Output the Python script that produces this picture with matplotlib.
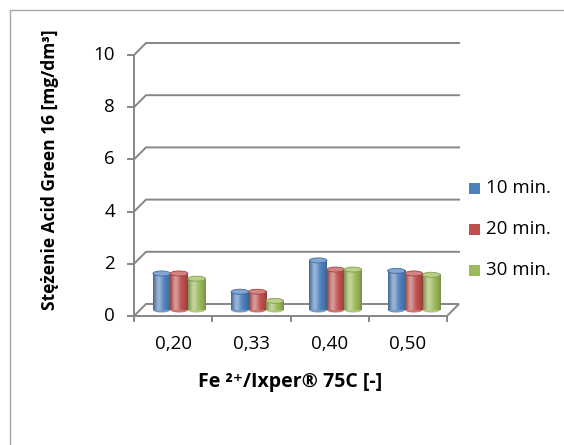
import numpy as np
import matplotlib.pyplot as plt
from matplotlib.colors import to_rgb
from matplotlib.patches import Ellipse, Polygon, Rectangle

plt.rcParams['font.family'] = ['Open Sans', 'DejaVu Sans']

categories = ['0,20', '0,33', '0,40', '0,50']
series_names = ['10 min.', '20 min.', '30 min.']
v10 = [1.4, 0.7, 1.9, 1.5]
v20 = [1.4, 0.7, 1.55, 1.4]
v30 = [1.2, 0.35, 1.55, 1.35]
yticks = [0, 2, 4, 6, 8, 10]
colors = ['#4F81BD', '#C0504D', '#9BBB59']
grid_col = '#868686'

W, H = 564, 445
fig = plt.figure(figsize=(W / 100, H / 100), dpi=100)
ax = fig.add_axes([134 / W, 129 / H, 313 / W, 261 / H])
ax.axis('off')

n = len(categories)
px = n / 313      # data units per pixel, x
py = 10 / 261     # data units per pixel, y
dx, dy = 12 * px, 12 * py   # depth offset of back wall

# back wall gridlines (with the diagonal to the front axis)
for y in yticks[1:]:
    ax.plot([0, dx, n + dx], [y, y + dy, y + dy], color=grid_col, lw=1.4,
            clip_on=False, zorder=1)

# floor
ax.add_patch(Polygon([(0, 0), (n, 0), (n + dx, dy), (dx, dy)], closed=True,
                     facecolor='none', edgecolor=grid_col, lw=1.4,
                     clip_on=False, zorder=1))

# axes
ax.plot([0, 0], [0, 10], color=grid_col, lw=1.4, clip_on=False, zorder=1)
for y in yticks:
    ax.plot([-6 * px, 0], [y, y], color=grid_col, lw=1.4, clip_on=False)
    ax.text(-19 * px, y, str(y), ha='right', va='center', fontsize=13.5)
for i in range(n + 1):
    ax.plot([i, i], [0, -5 * py], color=grid_col, lw=1.4, clip_on=False)
for i, c in enumerate(categories):
    ax.text(i + 0.5, -28 * py, c, ha='center', va='center', fontsize=13.5)


def shade(col, s):
    c = np.array(to_rgb(col))
    hl = 0.45 * np.exp(-((s - 0.3) / 0.22) ** 2)
    out = c[None, :] + (1 - c[None, :]) * hl[:, None]
    dark = 0.72 + 0.28 * np.sin(np.pi * np.clip(s, 0.02, 0.98)) ** 0.6
    return np.clip(out * dark[:, None], 0, 1)


# cylinders
bw = 17.5 * px
eh = 5 * py
base = dy / 2
s = np.linspace(0, 1, 64)
for j, vals in enumerate([v10, v20, v30]):
    col = colors[j]
    grad = shade(col, s)[None, :, :]
    for i, v in enumerate(vals):
        xc = i + 0.5 + dx / 2 + (j - 1) * bw
        x0 = xc - bw / 2
        top = base + v
        z = 3 + j * 0.1
        ax.add_patch(Ellipse((xc, base), bw, eh, facecolor=shade(col, np.array([0.5]))[0],
                             edgecolor='none', zorder=z))
        ax.imshow(grad, extent=[x0, x0 + bw, base, top], aspect='auto',
                  interpolation='bilinear', zorder=z + 0.01)
        c = np.array(to_rgb(col))
        ax.add_patch(Ellipse((xc, top), bw, eh, facecolor=c + (1 - c) * 0.3,
                             edgecolor=c * 0.85, lw=0.6, zorder=z + 0.02))

ax.set_xlim(0, n)
ax.set_ylim(0, 10)

# legend
for j, name in enumerate(series_names):
    yc = H - [188, 229, 270][j]
    fig.patches.append(Rectangle((469 / W, (yc - 5.5) / H), 11 / W, 11 / H,
                                 transform=fig.transFigure, facecolor=colors[j],
                                 edgecolor='none'))
    fig.text(486 / W, yc / H, name, ha='left', va='center', fontsize=13.5)

fig.text(290 / W, (H - 382) / H, 'Fe ²⁺/Ixper® 75C [-]', ha='center', va='center',
         fontsize=14, fontweight='bold')
fig.text(50 / W, (H - 170) / H, 'Stężenie Acid Green 16 [mg/dm³]', ha='center',
         va='center', rotation=90, fontsize=12.5, fontweight='bold')

# chart area border
fig.patches.append(Rectangle((9.5 / W, -0.1), 1.2, (H - 9.5) / H + 0.1,
                             transform=fig.transFigure, facecolor='none',
                             edgecolor='#A6A6A6', lw=1))

fig.savefig('out.png', dpi=100)
